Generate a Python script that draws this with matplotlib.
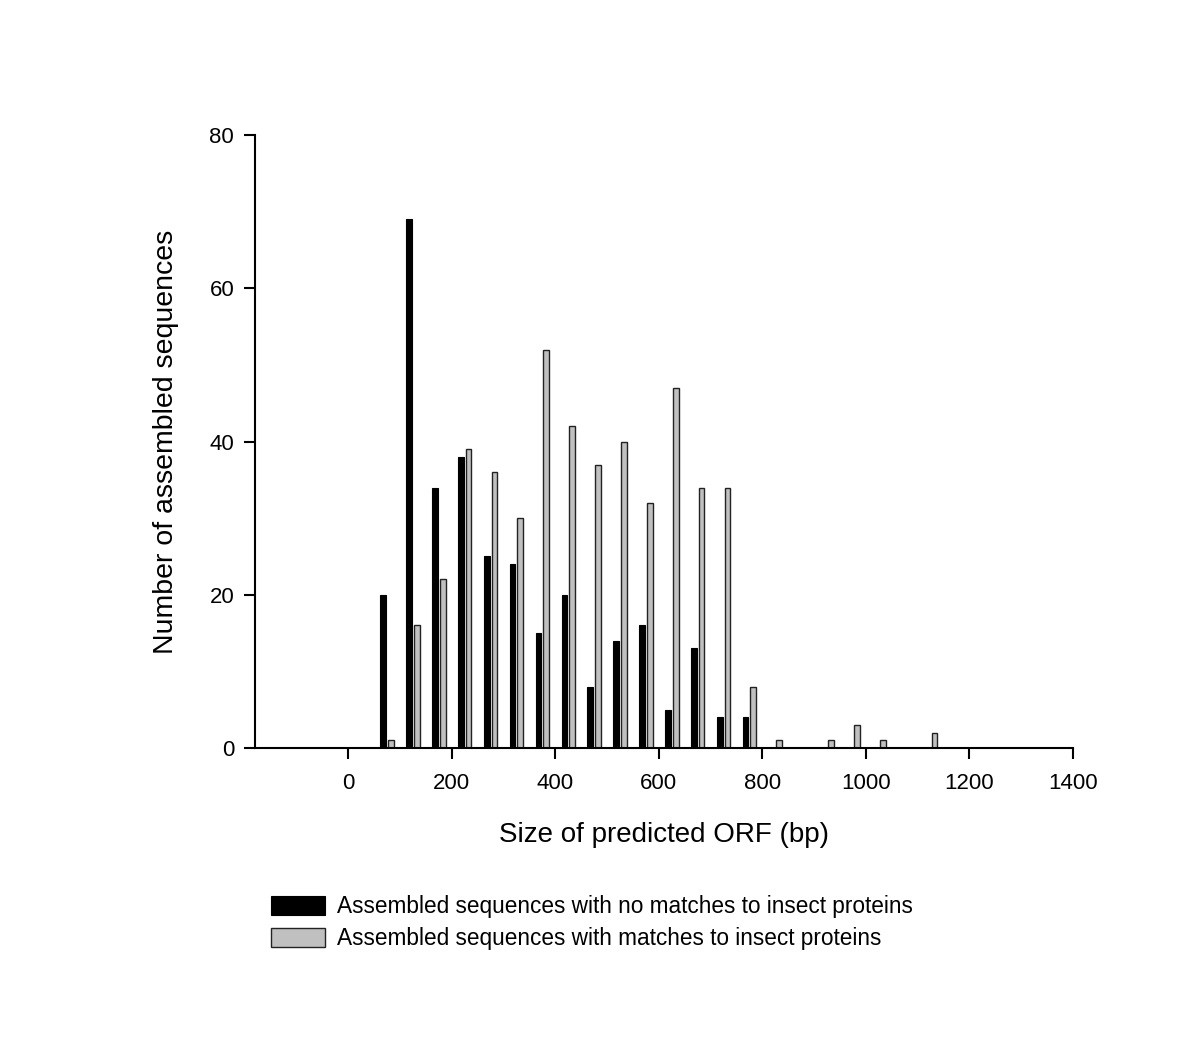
import numpy as np
import matplotlib.pyplot as plt

plt.rcParams['font.family'] = ['Liberation Sans', 'DejaVu Sans']

# bin centres of predicted ORF sizes (bp)
bins = [75, 125, 175, 225, 275, 325, 375, 425, 475, 525, 575, 625, 675, 725,
        775, 825, 875, 925, 975, 1025, 1075, 1125]
no_match = [20, 69, 34, 38, 25, 24, 15, 20, 8, 14, 16, 5, 13, 4,
            4, 0, 0, 0, 0, 0, 0, 0]
match = [1, 16, 22, 39, 36, 30, 52, 42, 37, 40, 32, 47, 34, 34,
         8, 1, 0, 1, 3, 1, 0, 2]

x = np.array(bins)
w = 11

fig = plt.figure(figsize=(12, 10.64), dpi=100)
ax = fig.add_axes([0.2125, 0.297, 0.6817, 0.576])

ax.bar(x - 7.5, no_match, width=w, color='black', edgecolor='black', linewidth=0.8,
       label='Assembled sequences with no matches to insect proteins')
m = np.array(match) > 0
ax.bar(x[m] + 7.5, np.array(match)[m], width=w, color='#c0c0c0', edgecolor='#222222',
       linewidth=1.0, label='Assembled sequences with matches to insect proteins')

ax.set_xlim(-180, 1400)
ax.set_ylim(0, 80)
ax.set_xticks(range(0, 1401, 200))
ax.set_yticks([0, 20, 40, 60, 80])
ax.spines['top'].set_visible(False)
ax.spines['right'].set_visible(False)
for s in ['left', 'bottom']:
    ax.spines[s].set_linewidth(1.5)
ax.tick_params(axis='both', direction='out', length=8, width=1.5, labelsize=16, pad=10)
ax.tick_params(axis='y', pad=7)

ax.set_xlabel('Size of predicted ORF (bp)', fontsize=20, labelpad=20)
ax.set_ylabel('Number of assembled sequences', fontsize=20.5, labelpad=22)

fig.legend(loc='upper left', bbox_to_anchor=(0.216, 0.1695), frameon=False,
           fontsize=16.3, handlelength=2.4, handleheight=0.9, labelspacing=0.42,
           handletextpad=0.55, borderpad=0)

fig.savefig('out.png', dpi=100)
